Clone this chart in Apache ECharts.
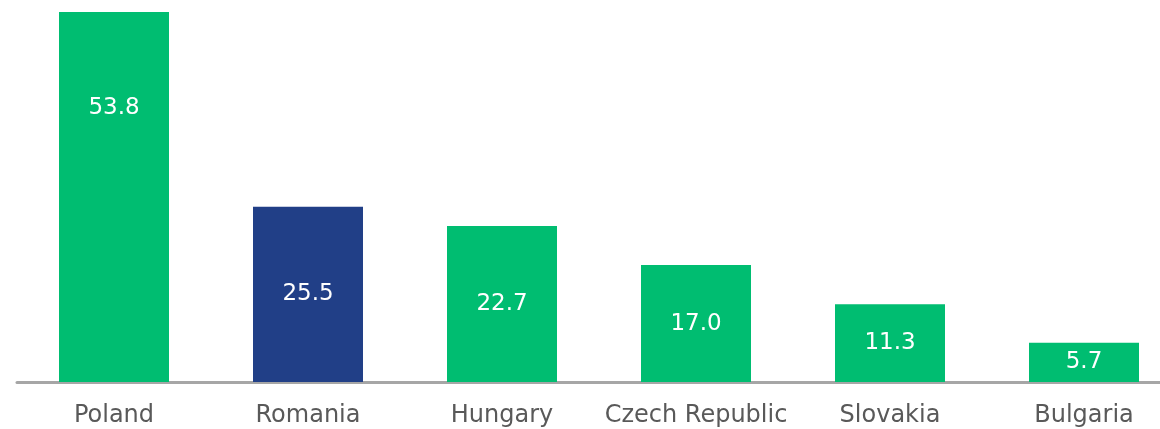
<!DOCTYPE html>
<html>
<head>
<meta charset="utf-8">
<script src="https://cdn.jsdelivr.net/npm/echarts@6/dist/echarts.min.js"></script>
<style>
  html, body { margin: 0; padding: 0; background: #fff; }
  #chart { width: 1160px; height: 429px; }
</style>
</head>
<body>
<div id="chart"></div>
<script>
const categories = ['Poland', 'Romania', 'Hungary', 'Czech Republic', 'Slovakia', 'Bulgaria']
const values = [53.8, 25.5, 22.7, 17.0, 11.3, 5.7]
const highlight = 'Romania'

const green = '#00bd71'
const blue = '#213f87'

const chart = echarts.init(document.getElementById('chart'))

const barData = values.map((v, i) => {
  const item = {
    value: v,
    itemStyle: { color: categories[i] === highlight ? blue : green }
  }
  // the tall bar has its label up near the top, not centred
  if (i === 0) {
    item.label = { position: ['50%', 96], align: 'center', verticalAlign: 'middle' }
  }
  return item
})

chart.setOption({
  animation: false,
  grid: {
    left: 17,
    width: 1164, // last category runs past the right edge
    top: 12,
    bottom: 47,
    outerBoundsMode: 'none'
  },
  xAxis: {
    type: 'category',
    data: categories,
    axisTick: { show: false },
    axisLine: { lineStyle: { color: '#a6a6a6', width: 3 } },
    axisLabel: {
      interval: 0,
      color: '#595959',
      fontFamily: 'DejaVu Sans',
      fontSize: 24,
      margin: 22
    }
  },
  yAxis: {
    type: 'value',
    min: 0,
    max: 53.8,
    show: false,
    splitLine: { show: false }
  },
  series: [{
    type: 'bar',
    data: barData,
    barWidth: 110,
    label: {
      show: true,
      position: 'inside',
      color: '#fff',
      fontFamily: 'DejaVu Sans',
      fontSize: 23,
      formatter: p => p.value.toFixed(1)
    }
  }]
})
</script>
</body>
</html>
